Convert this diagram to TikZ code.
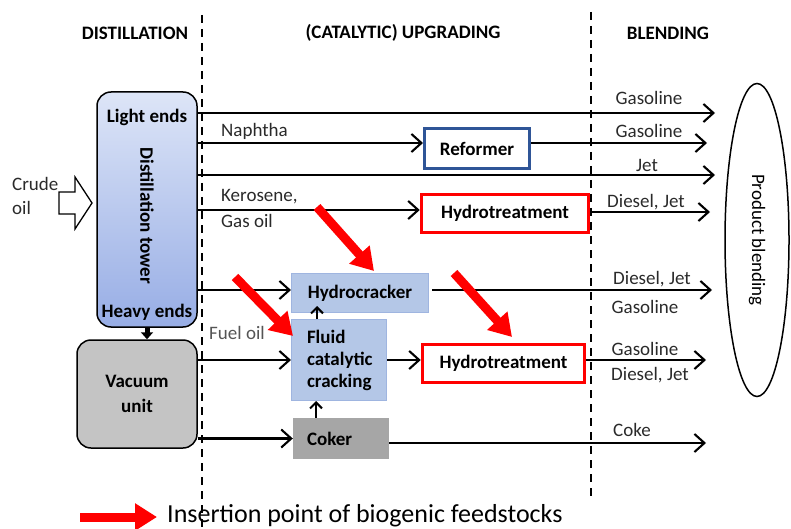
\documentclass[tikz,border=0pt]{standalone}
\usepackage{fontspec}
\setmainfont{Carlito}
\usetikzlibrary{arrows.meta,shapes.geometric,calc}
\definecolor{tgtop}{HTML}{DDE5F7}
\definecolor{tgbot}{HTML}{97ADE5}
\definecolor{vacgray}{HTML}{C4C4C4}
\definecolor{refblue}{HTML}{2F5597}
\definecolor{hcfill}{HTML}{B4C7E7}
\definecolor{hcdraw}{HTML}{9FB5E0}
\definecolor{cokerfill}{HTML}{A6A6A6}
\definecolor{lblc}{HTML}{2A2A2A}
\definecolor{lblg}{HTML}{555555}
\begin{document}
\begin{tikzpicture}[x=1pt,y=-1pt,
 every node/.style={font=\fontsize{19}{22}\selectfont, inner sep=0pt},
 lbl/.style={text=lblc},
 bold/.style={font=\fontsize{19}{22}\selectfont\bfseries},
 flow/.style={line width=2.1pt, -{Straight Barb[length=10pt,width=18pt]}},
 upar/.style={line width=2.1pt, -{Straight Barb[length=6pt,width=12pt]}},
 bio/.style={draw=red, line width=9pt, -{Triangle[length=22pt,width=26pt]}},
 sep/.style={line width=1.4pt, dash pattern=on 8pt off 6pt},
 redbox/.style={draw=red, line width=3.5pt, fill=white, bold},
 bluebox/.style={fill=hcfill, draw=hcdraw, line width=1pt, bold},
]
\useasboundingbox (0,0) rectangle (791,529);

% headers
\node[bold] (h1) at (135,33) {DISTILLATION};
\node[bold] (h2) at (403,33) {(CATALYTIC) UPGRADING};
\node[bold] (h3) at (668,33) {BLENDING};

% dashed separators
\coordinate (d1t) at (202,15);
\coordinate (d1b) at (202,529);
\coordinate (d2t) at (591,12);
\coordinate (d2b) at (591,500);
\draw[sep] (d1t) -- (d1b);
\draw[sep] (d2t) -- (d2b);

% distillation tower
\node[draw, line width=1.5pt, rounded corners=14pt, top color=tgtop, bottom color=tgbot,
      minimum width=100pt, minimum height=235pt] (tower) at (147,209.5) {};
\node[bold] (le) at (147,117) {Light ends};
\node[bold] (he) at (147,312) {Heavy ends};
\node[bold, rotate=-90] (dt) at (147,216) {Distillation tower};

% crude oil
\node[lbl, anchor=west] (crude) at (12,184) {Crude};
\node[lbl, anchor=west] (oil) at (12,208) {oil};
\draw[line width=1.3pt, fill=white] (59,192) -- (75,192) -- (75,177) -- (92,203)
      -- (75,229) -- (75,214) -- (59,214) -- cycle;

% vacuum unit
\node[draw, line width=1.5pt, rounded corners=14pt, fill=vacgray, minimum width=120pt,
      minimum height=108pt, align=center, font=\fontsize{19}{25}\selectfont\bfseries] (vac) at (137,394) {Vacuum\\unit};
\draw[line width=5pt, -{Triangle[length=7pt,width=12pt]}] (tower.south) -- (tower.south|-vac.north);

% process units
\node[draw=refblue, line width=3pt, fill=white, bold, minimum width=105pt, minimum height=40pt] (ref) at (477,148.5) {Reformer};
\node[redbox, minimum width=167pt, minimum height=38pt] (ht1) at (505,213.5) {Hydrotreatment};
\node[redbox, minimum width=162pt, minimum height=38pt] (ht2) at (503.5,363.5) {Hydrotreatment};
\node[bluebox, minimum width=137pt, minimum height=39pt] (hc) at (360,293) {Hydrocracker};
\node[bluebox, minimum width=95pt, minimum height=81pt, text width=64pt, align=left,
      font=\fontsize{19}{22}\selectfont\bfseries] (fcc) at (339,360) {Fluid\\catalytic\\cracking};
\node[fill=cokerfill, bold, minimum width=96pt, minimum height=41pt, text width=68pt, align=left] (coker) at (341,438.5) {Coker};

% product blending
\node[draw, ellipse, line width=1.5pt, rotate=-90, minimum width=313pt, minimum height=64pt] (blend) at (757,240) {Product blending};

% flows
\coordinate (g1) at (715,113);
\draw[flow] (tower.east|-g1) -- (g1);
\coordinate (n1) at (0,143);
\draw[flow] (tower.east|-n1) -- (ref.west|-n1);
\coordinate (g2) at (707,143);
\draw[flow] (ref.east|-g2) -- (g2);
\coordinate (j1) at (715,175);
\draw[flow] (tower.east|-j1) -- (j1);
\coordinate (k1) at (0,210);
\draw[flow] (tower.east|-k1) -- (ht1.west|-k1);
\coordinate (dj1) at (710,212);
\draw[flow] (ht1.east|-dj1) -- (dj1);
\coordinate (hcin) at (0,290);
\draw[flow] (tower.east|-hcin) -- (hc.west|-hcin);
\coordinate (dj2) at (712,290);
\draw[flow] ($(hc.east|-dj2)+(3,0)$) -- (dj2);
\draw[flow] (vac.east|-fcc.west) -- (fcc.west);
\draw[flow] (fcc.east) -- (ht2.west|-fcc.east);
\coordinate (gs3) at (706,360);
\draw[flow] (ht2.east|-gs3) -- (gs3);
\draw[flow] (vac.east|-coker.west) -- (coker.west);
\coordinate (ck2) at (706,443);
\draw[flow] (coker.east|-ck2) -- (ck2);
\coordinate (ux1) at (316,0);
\coordinate (fcctip) at (316,401);
\draw[upar] (coker.north-|ux1) -- (fcctip);
\coordinate (hctip) at (317,306);
\draw[upar] (fcc.north-|hctip) -- (hctip);

% labels
\node[lbl] (l1) at (649,98) {Gasoline};
\node[lbl] (l2) at (649,131) {Gasoline};
\node[lbl] (l3) at (647,165) {Jet};
\node[lbl] (l4) at (646,202) {Diesel, Jet};
\node[lbl] (l5) at (652,279) {Diesel, Jet};
\node[lbl] (l6) at (645,307) {Gasoline};
\node[lbl] (l7) at (645,349) {Gasoline};
\node[lbl] (l8) at (650,375) {Diesel, Jet};
\node[lbl] (l9) at (632,430) {Coke};
\node[lbl, anchor=west] (l10) at (221,131) {Naphtha};
\node[lbl, anchor=west] (l11) at (221,197) {Kerosene,};
\node[lbl, anchor=west] (l12) at (221,221) {Gas oil};
\node[text=lblg, anchor=west] (l13) at (209,333) {Fuel oil};

% biogenic insertion arrows
\coordinate (b1s) at (317,207); \coordinate (b1e) at (374,271);
\coordinate (b2s) at (235,277); \coordinate (b2e) at (293,336);
\coordinate (b3s) at (454,273); \coordinate (b3e) at (512,337);
\draw[bio] (b1s) -- (b1e);
\draw[bio] (b2s) -- (b2e);
\draw[bio] (b3s) -- (b3e);

% legend
\coordinate (lg1) at (80,517); \coordinate (lg2) at (157,517);
\draw[bio] (lg1) -- (lg2);
\node[anchor=west, font=\fontsize{26}{28}\selectfont] (leg) at (167,516) {Insertion point of biogenic feedstocks};
\end{tikzpicture}
\end{document}
